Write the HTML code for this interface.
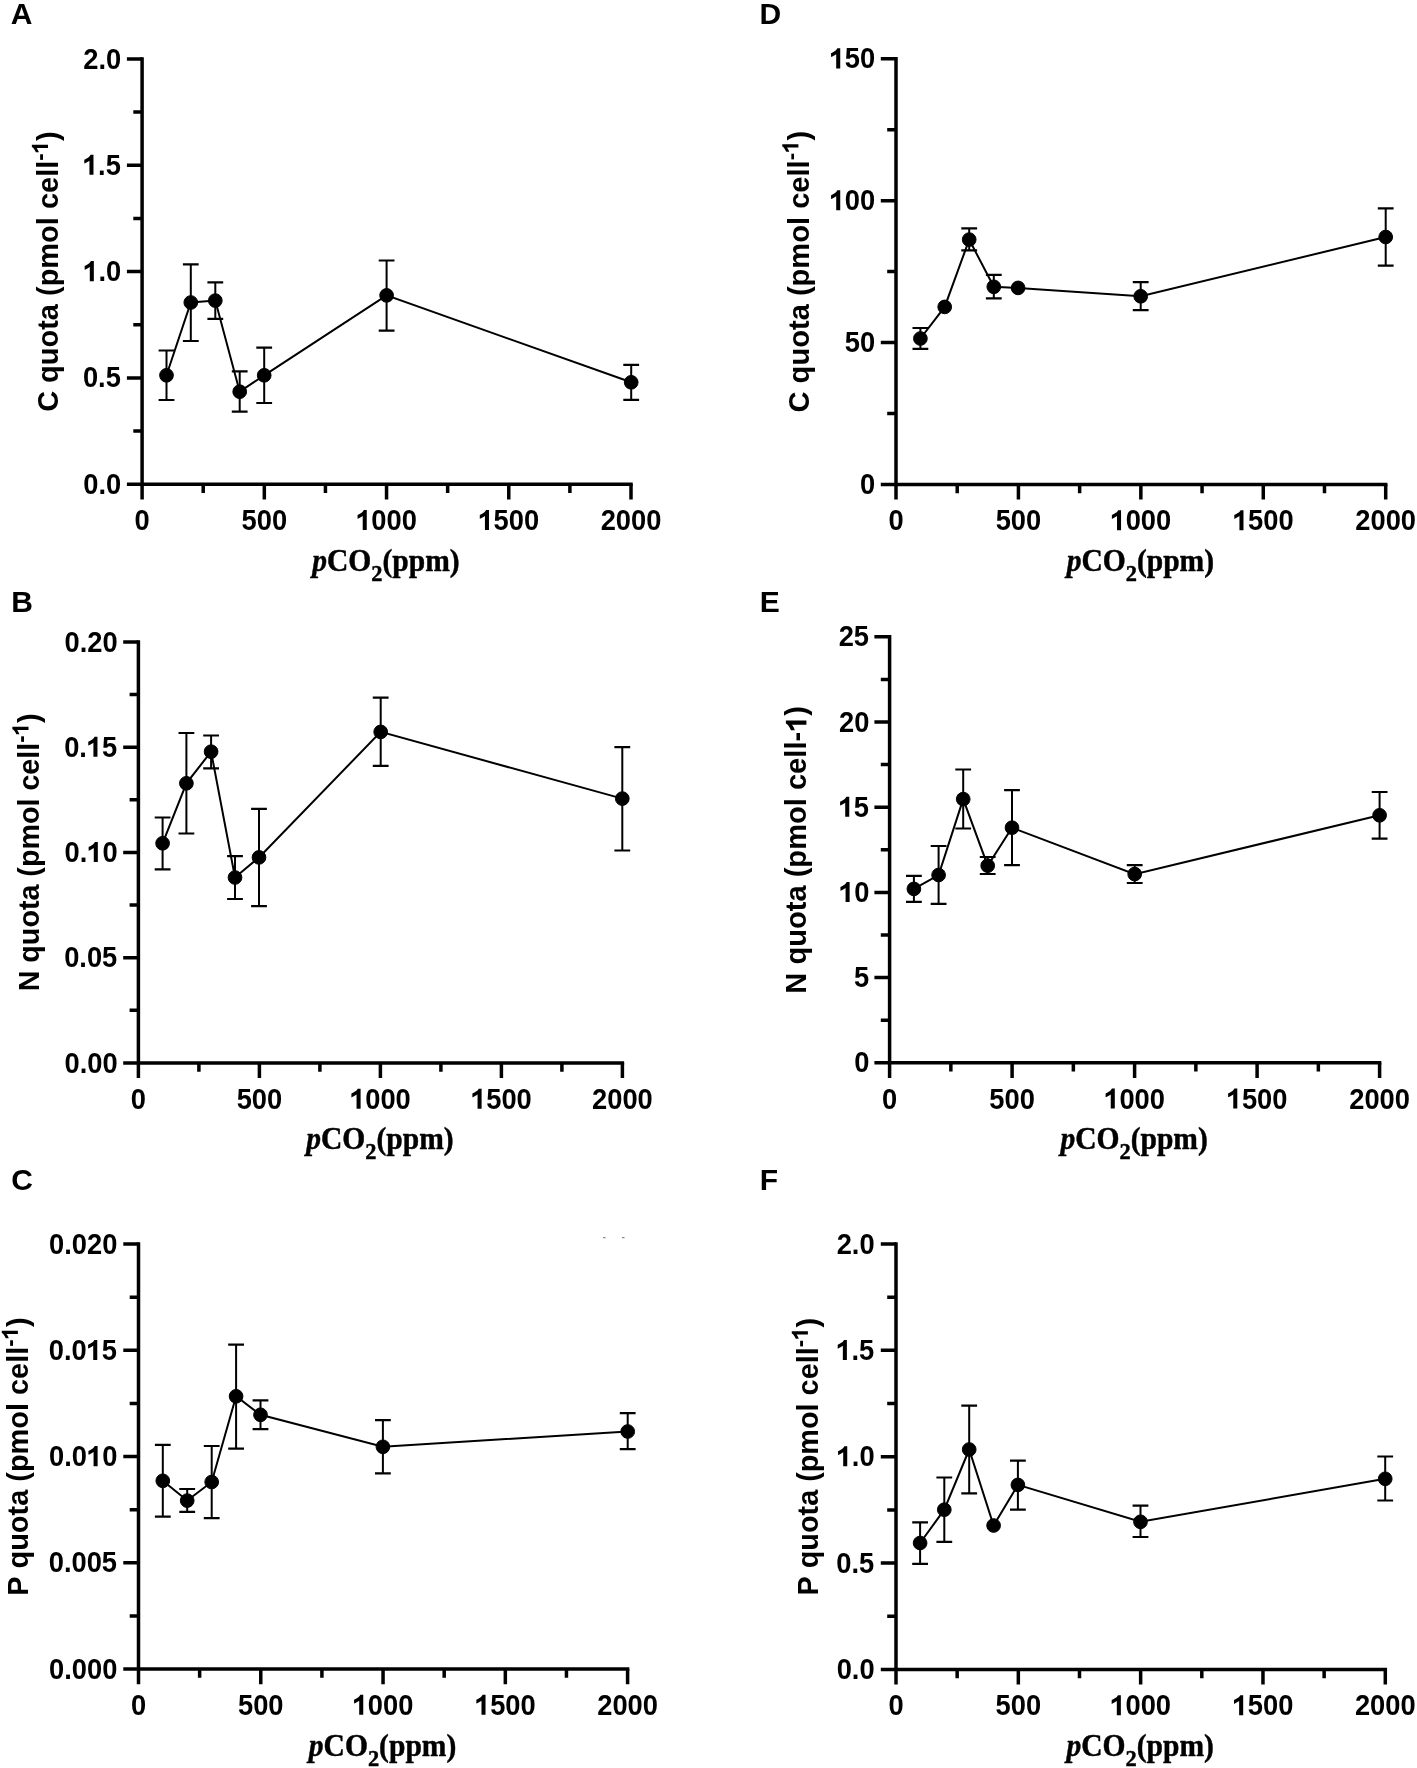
<!DOCTYPE html>
<html><head><meta charset="utf-8"><title>Figure</title><style>
html,body{margin:0;padding:0;background:#fff;}
svg{display:block;filter:grayscale(1);}
text{fill:#000;stroke:none;font-kerning:none;white-space:pre;}
path.g1{stroke:none;}
.tk{font-family:"Liberation Sans",sans-serif;font-weight:bold;font-size:30px;}
.yt{font-family:"Liberation Sans",sans-serif;font-weight:bold;font-size:30px;}
.sup{font-family:"Liberation Sans",sans-serif;font-weight:bold;font-size:23px;}
.xt{font-family:"Liberation Serif",serif;font-weight:bold;font-size:31px;stroke:#000;stroke-width:0.45px;stroke-linejoin:round;}
.xi{font-style:italic;}
.xs{font-size:23.5px;}
.lt{font-family:"Liberation Sans",sans-serif;font-weight:bold;font-size:30px;}
</style></head>
<body><svg width="1417" height="1768" viewBox="0 0 1417 1768">
<g stroke="#000" fill="#000" stroke-linecap="butt">
<g><path d="M142.1 57.15V499.4" stroke-width="3.5"/>
<path d="M126.9 484.2H632.75" stroke-width="3.5"/>
<path d="M133.3 431.04H142.1M126.9 377.88H142.1M133.3 324.71H142.1M126.9 271.55H142.1M133.3 218.39H142.1M126.9 165.22H142.1M133.3 112.06H142.1M126.9 58.9H142.1M203.21 484.2V493M264.32 484.2V499.4M325.44 484.2V493M386.55 484.2V499.4M447.66 484.2V493M508.77 484.2V499.4M569.89 484.2V493M631 484.2V499.4" stroke-width="3.5"/>
<text class="tk" transform="translate(83.27 493.8) scale(0.91 1)">0.0</text>
<text class="tk" transform="translate(82.91 387.48) scale(0.91 1)">0.5</text>
<text class="tk" transform="translate(83.27 281.15) scale(0.91 1)"> .0</text>
<path class="g1" d="M490 0H793V1466H575C540 1380 470 1318 400 1270C300 1200 200 1150 104 1105V828C240 870 380 950 490 1030Z" transform="translate(83.27 281.15) scale(0.013330 -0.013672)"/>
<text class="tk" transform="translate(82.91 174.82) scale(0.91 1)"> .5</text>
<path class="g1" d="M490 0H793V1466H575C540 1380 470 1318 400 1270C300 1200 200 1150 104 1105V828C240 870 380 950 490 1030Z" transform="translate(82.91 174.82) scale(0.013330 -0.013672)"/>
<text class="tk" transform="translate(83.27 68.5) scale(0.91 1)">2.0</text>
<text class="tk" transform="translate(134.51 530) scale(0.91 1)">0</text>
<text class="tk" transform="translate(241.55 530) scale(0.91 1)">500</text>
<text class="tk" transform="translate(356.18 530) scale(0.91 1)"> 000</text>
<path class="g1" d="M490 0H793V1466H575C540 1380 470 1318 400 1270C300 1200 200 1150 104 1105V828C240 870 380 950 490 1030Z" transform="translate(356.18 530) scale(0.013330 -0.013672)"/>
<text class="tk" transform="translate(478.41 530) scale(0.91 1)"> 500</text>
<path class="g1" d="M490 0H793V1466H575C540 1380 470 1318 400 1270C300 1200 200 1150 104 1105V828C240 870 380 950 490 1030Z" transform="translate(478.41 530) scale(0.013330 -0.013672)"/>
<text class="tk" transform="translate(600.63 530) scale(0.91 1)">2000</text>
<g transform="translate(58.2 271.55) rotate(-90) scale(0.996 1)"><text class="yt" transform="translate(-140.87 0) scale(0.97 1)">C quota (pmol cell</text><text class="sup" transform="translate(111.34 -10.2) scale(0.97 1)">-</text><path class="g1" d="M490 0H793V1466H575C540 1380 470 1318 400 1270C300 1200 200 1150 104 1105V828C240 870 380 950 490 1030Z" transform="translate(118.77 -10.2) scale(0.010894 -0.011006)"/><text class="yt" transform="translate(131.18 0) scale(0.97 1)">)</text></g>
<text class="xt xi" transform="translate(312.21 570.9) scale(0.953 1)">p</text><text class="xt" transform="translate(326.98 570.9) scale(0.953 1)">CO</text><text class="xt xs" transform="translate(371.29 581.2) scale(0.953 1)">2</text><text class="xt" transform="translate(382.49 570.9) scale(0.953 1)">(ppm)</text>
<text class="lt" x="10.65" y="24.1">A</text>
<polyline fill="none" stroke-width="2.0" points="166.5,375.3 190.8,302.5 215.3,300.6 239.7,391.7 264.2,375.3 386.6,295.4 631.2,382.3"/>
<path d="M166.5 350.5V400M190.8 264.3V341M215.3 282.4V318.9M239.7 371.4V411.7M264.2 347.7V403M386.6 260.5V330.7M631.2 364.8V399.9" stroke-width="2.0"/>
<path d="M158.6 350.5H174.4M158.6 400H174.4M182.9 264.3H198.7M182.9 341H198.7M207.4 282.4H223.2M207.4 318.9H223.2M231.8 371.4H247.6M231.8 411.7H247.6M256.3 347.7H272.1M256.3 403H272.1M378.7 260.5H394.5M378.7 330.7H394.5M623.3 364.8H639.1M623.3 399.9H639.1" stroke-width="2.2"/>
<circle cx="166.5" cy="375.3" r="6.85"/>
<circle cx="190.8" cy="302.5" r="6.85"/>
<circle cx="215.3" cy="300.6" r="6.85"/>
<circle cx="239.7" cy="391.7" r="6.85"/>
<circle cx="264.2" cy="375.3" r="6.85"/>
<circle cx="386.6" cy="295.4" r="6.85"/>
<circle cx="631.2" cy="382.3" r="6.85"/></g>
<g><path d="M138.4 640.25V1078.1" stroke-width="3.5"/>
<path d="M123.2 1062.9H624.15" stroke-width="3.5"/>
<path d="M129.6 1010.29H138.4M123.2 957.68H138.4M129.6 905.06H138.4M123.2 852.45H138.4M129.6 799.84H138.4M123.2 747.23H138.4M129.6 694.61H138.4M123.2 642H138.4M198.9 1062.9V1071.7M259.4 1062.9V1078.1M319.9 1062.9V1071.7M380.4 1062.9V1078.1M440.9 1062.9V1071.7M501.4 1062.9V1078.1M561.9 1062.9V1071.7M622.4 1062.9V1078.1" stroke-width="3.5"/>
<text class="tk" transform="translate(64.49 1072.5) scale(0.91 1)">0.00</text>
<text class="tk" transform="translate(64.13 967.28) scale(0.91 1)">0.05</text>
<text class="tk" transform="translate(64.49 862.05) scale(0.91 1)">0. 0</text>
<path class="g1" d="M490 0H793V1466H575C540 1380 470 1318 400 1270C300 1200 200 1150 104 1105V828C240 870 380 950 490 1030Z" transform="translate(87.25 862.05) scale(0.013330 -0.013672)"/>
<text class="tk" transform="translate(64.13 756.83) scale(0.91 1)">0. 5</text>
<path class="g1" d="M490 0H793V1466H575C540 1380 470 1318 400 1270C300 1200 200 1150 104 1105V828C240 870 380 950 490 1030Z" transform="translate(86.89 756.83) scale(0.013330 -0.013672)"/>
<text class="tk" transform="translate(64.49 651.6) scale(0.91 1)">0.20</text>
<text class="tk" transform="translate(130.81 1108.7) scale(0.91 1)">0</text>
<text class="tk" transform="translate(236.63 1108.7) scale(0.91 1)">500</text>
<text class="tk" transform="translate(350.03 1108.7) scale(0.91 1)"> 000</text>
<path class="g1" d="M490 0H793V1466H575C540 1380 470 1318 400 1270C300 1200 200 1150 104 1105V828C240 870 380 950 490 1030Z" transform="translate(350.03 1108.7) scale(0.013330 -0.013672)"/>
<text class="tk" transform="translate(471.03 1108.7) scale(0.91 1)"> 500</text>
<path class="g1" d="M490 0H793V1466H575C540 1380 470 1318 400 1270C300 1200 200 1150 104 1105V828C240 870 380 950 490 1030Z" transform="translate(471.03 1108.7) scale(0.013330 -0.013672)"/>
<text class="tk" transform="translate(592.03 1108.7) scale(0.91 1)">2000</text>
<g transform="translate(38.7 852.45) rotate(-90) scale(0.986 1)"><text class="yt" transform="translate(-140.87 0) scale(0.97 1)">N quota (pmol cell</text><text class="sup" transform="translate(111.34 -10.2) scale(0.97 1)">-</text><path class="g1" d="M490 0H793V1466H575C540 1380 470 1318 400 1270C300 1200 200 1150 104 1105V828C240 870 380 950 490 1030Z" transform="translate(118.77 -10.2) scale(0.010894 -0.011006)"/><text class="yt" transform="translate(131.18 0) scale(0.97 1)">)</text></g>
<text class="xt xi" transform="translate(306.19 1148.5) scale(0.953 1)">p</text><text class="xt" transform="translate(320.96 1148.5) scale(0.953 1)">CO</text><text class="xt xs" transform="translate(365.27 1158.8) scale(0.953 1)">2</text><text class="xt" transform="translate(376.47 1148.5) scale(0.953 1)">(ppm)</text>
<text class="lt" x="11.19" y="611.8">B</text>
<polyline fill="none" stroke-width="2.0" points="162.6,843.3 186.4,783.3 211.1,751.7 235,877.5 259,857.4 380.7,731.9 622.3,798.6"/>
<path d="M162.6 817.5V869.3M186.4 733V833.5M211.1 735.5V768.3M235 856.1V899M259 808.8V906.1M380.7 697.6V765.8M622.3 747.1V850.5" stroke-width="2.0"/>
<path d="M154.7 817.5H170.5M154.7 869.3H170.5M178.5 733H194.3M178.5 833.5H194.3M203.2 735.5H219M203.2 768.3H219M227.1 856.1H242.9M227.1 899H242.9M251.1 808.8H266.9M251.1 906.1H266.9M372.8 697.6H388.6M372.8 765.8H388.6M614.4 747.1H630.2M614.4 850.5H630.2" stroke-width="2.2"/>
<circle cx="162.6" cy="843.3" r="6.85"/>
<circle cx="186.4" cy="783.3" r="6.85"/>
<circle cx="211.1" cy="751.7" r="6.85"/>
<circle cx="235" cy="877.5" r="6.85"/>
<circle cx="259" cy="857.4" r="6.85"/>
<circle cx="380.7" cy="731.9" r="6.85"/>
<circle cx="622.3" cy="798.6" r="6.85"/></g>
<g><path d="M138.5 1242.35V1684.2" stroke-width="3.5"/>
<path d="M123.3 1669H629.35" stroke-width="3.5"/>
<path d="M129.7 1615.89H138.5M123.3 1562.78H138.5M129.7 1509.66H138.5M123.3 1456.55H138.5M129.7 1403.44H138.5M123.3 1350.32H138.5M129.7 1297.21H138.5M123.3 1244.1H138.5M199.64 1669V1677.8M260.77 1669V1684.2M321.91 1669V1677.8M383.05 1669V1684.2M444.19 1669V1677.8M505.33 1669V1684.2M566.46 1669V1677.8M627.6 1669V1684.2" stroke-width="3.5"/>
<text class="tk" transform="translate(49.1 1678.6) scale(0.91 1)">0.000</text>
<text class="tk" transform="translate(48.74 1572.38) scale(0.91 1)">0.005</text>
<text class="tk" transform="translate(49.1 1466.15) scale(0.91 1)">0.0 0</text>
<path class="g1" d="M490 0H793V1466H575C540 1380 470 1318 400 1270C300 1200 200 1150 104 1105V828C240 870 380 950 490 1030Z" transform="translate(87.05 1466.15) scale(0.013330 -0.013672)"/>
<text class="tk" transform="translate(48.74 1359.92) scale(0.91 1)">0.0 5</text>
<path class="g1" d="M490 0H793V1466H575C540 1380 470 1318 400 1270C300 1200 200 1150 104 1105V828C240 870 380 950 490 1030Z" transform="translate(86.69 1359.92) scale(0.013330 -0.013672)"/>
<text class="tk" transform="translate(49.1 1253.7) scale(0.91 1)">0.020</text>
<text class="tk" transform="translate(130.91 1714.8) scale(0.91 1)">0</text>
<text class="tk" transform="translate(238 1714.8) scale(0.91 1)">500</text>
<text class="tk" transform="translate(352.68 1714.8) scale(0.91 1)"> 000</text>
<path class="g1" d="M490 0H793V1466H575C540 1380 470 1318 400 1270C300 1200 200 1150 104 1105V828C240 870 380 950 490 1030Z" transform="translate(352.68 1714.8) scale(0.013330 -0.013672)"/>
<text class="tk" transform="translate(474.96 1714.8) scale(0.91 1)"> 500</text>
<path class="g1" d="M490 0H793V1466H575C540 1380 470 1318 400 1270C300 1200 200 1150 104 1105V828C240 870 380 950 490 1030Z" transform="translate(474.96 1714.8) scale(0.013330 -0.013672)"/>
<text class="tk" transform="translate(597.23 1714.8) scale(0.91 1)">2000</text>
<g transform="translate(28.1 1456.55) rotate(-90) scale(0.994 1)"><text class="yt" transform="translate(-140.07 0) scale(0.97 1)">P quota (pmol cell</text><text class="sup" transform="translate(110.54 -10.2) scale(0.97 1)">-</text><path class="g1" d="M490 0H793V1466H575C540 1380 470 1318 400 1270C300 1200 200 1150 104 1105V828C240 870 380 950 490 1030Z" transform="translate(117.97 -10.2) scale(0.010894 -0.011006)"/><text class="yt" transform="translate(130.38 0) scale(0.97 1)">)</text></g>
<text class="xt xi" transform="translate(308.84 1755.5) scale(0.953 1)">p</text><text class="xt" transform="translate(323.61 1755.5) scale(0.953 1)">CO</text><text class="xt xs" transform="translate(367.92 1765.8) scale(0.953 1)">2</text><text class="xt" transform="translate(379.12 1755.5) scale(0.953 1)">(ppm)</text>
<text class="lt" x="11.17" y="1190">C</text>
<polyline fill="none" stroke-width="2.0" points="162.8,1480.8 187.2,1500.6 211.7,1482 236.1,1396.3 260.5,1414.8 382.9,1446.8 627.7,1431.5"/>
<path d="M162.8 1444.9V1516.7M187.2 1489V1511.9M211.7 1446V1518.1M236.1 1344.6V1448.6M260.5 1400.3V1429.1M382.9 1420.2V1473.3M627.7 1413.2V1449.1" stroke-width="2.0"/>
<path d="M154.9 1444.9H170.7M154.9 1516.7H170.7M179.3 1489H195.1M179.3 1511.9H195.1M203.8 1446H219.6M203.8 1518.1H219.6M228.2 1344.6H244M228.2 1448.6H244M252.6 1400.3H268.4M252.6 1429.1H268.4M375 1420.2H390.8M375 1473.3H390.8M619.8 1413.2H635.6M619.8 1449.1H635.6" stroke-width="2.2"/>
<circle cx="162.8" cy="1480.8" r="6.85"/>
<circle cx="187.2" cy="1500.6" r="6.85"/>
<circle cx="211.7" cy="1482" r="6.85"/>
<circle cx="236.1" cy="1396.3" r="6.85"/>
<circle cx="260.5" cy="1414.8" r="6.85"/>
<circle cx="382.9" cy="1446.8" r="6.85"/>
<circle cx="627.7" cy="1431.5" r="6.85"/></g>
<g><path d="M896 57.05V499.6" stroke-width="3.5"/>
<path d="M880.8 484.4H1387.45" stroke-width="3.5"/>
<path d="M887.2 413.47H896M880.8 342.53H896M887.2 271.6H896M880.8 200.67H896M887.2 129.73H896M880.8 58.8H896M957.21 484.4V493.2M1018.42 484.4V499.6M1079.64 484.4V493.2M1140.85 484.4V499.6M1202.06 484.4V493.2M1263.28 484.4V499.6M1324.49 484.4V493.2M1385.7 484.4V499.6" stroke-width="3.5"/>
<text class="tk" transform="translate(860.04 494) scale(0.91 1)">0</text>
<text class="tk" transform="translate(844.85 352.13) scale(0.91 1)">50</text>
<text class="tk" transform="translate(829.67 210.27) scale(0.91 1)"> 00</text>
<path class="g1" d="M490 0H793V1466H575C540 1380 470 1318 400 1270C300 1200 200 1150 104 1105V828C240 870 380 950 490 1030Z" transform="translate(829.67 210.27) scale(0.013330 -0.013672)"/>
<text class="tk" transform="translate(829.67 68.4) scale(0.91 1)"> 50</text>
<path class="g1" d="M490 0H793V1466H575C540 1380 470 1318 400 1270C300 1200 200 1150 104 1105V828C240 870 380 950 490 1030Z" transform="translate(829.67 68.4) scale(0.013330 -0.013672)"/>
<text class="tk" transform="translate(888.41 530.2) scale(0.91 1)">0</text>
<text class="tk" transform="translate(995.65 530.2) scale(0.91 1)">500</text>
<text class="tk" transform="translate(1110.48 530.2) scale(0.91 1)"> 000</text>
<path class="g1" d="M490 0H793V1466H575C540 1380 470 1318 400 1270C300 1200 200 1150 104 1105V828C240 870 380 950 490 1030Z" transform="translate(1110.48 530.2) scale(0.013330 -0.013672)"/>
<text class="tk" transform="translate(1232.91 530.2) scale(0.91 1)"> 500</text>
<path class="g1" d="M490 0H793V1466H575C540 1380 470 1318 400 1270C300 1200 200 1150 104 1105V828C240 870 380 950 490 1030Z" transform="translate(1232.91 530.2) scale(0.013330 -0.013672)"/>
<text class="tk" transform="translate(1355.33 530.2) scale(0.91 1)">2000</text>
<g transform="translate(808.6 271.6) rotate(-90) scale(1.0 1)"><text class="yt" transform="translate(-140.87 0) scale(0.97 1)">C quota (pmol cell</text><text class="sup" transform="translate(111.34 -10.2) scale(0.97 1)">-</text><path class="g1" d="M490 0H793V1466H575C540 1380 470 1318 400 1270C300 1200 200 1150 104 1105V828C240 870 380 950 490 1030Z" transform="translate(118.77 -10.2) scale(0.010894 -0.011006)"/><text class="yt" transform="translate(131.18 0) scale(0.97 1)">)</text></g>
<text class="xt xi" transform="translate(1066.64 571) scale(0.953 1)">p</text><text class="xt" transform="translate(1081.41 571) scale(0.953 1)">CO</text><text class="xt xs" transform="translate(1125.72 581.3) scale(0.953 1)">2</text><text class="xt" transform="translate(1136.92 571) scale(0.953 1)">(ppm)</text>
<text class="lt" x="759.39" y="24.4">D</text>
<polyline fill="none" stroke-width="2.0" points="920.4,338.5 944.7,306.9 969.2,239.6 993.8,286.8 1018.1,287.9 1140.7,296.3 1385.7,237"/>
<path d="M920.4 328V348.9M969.2 228.3V250.4M993.8 274.9V298.4M1140.7 282.2V310.1M1385.7 208.3V265.6" stroke-width="2.0"/>
<path d="M912.5 328H928.3M912.5 348.9H928.3M961.3 228.3H977.1M961.3 250.4H977.1M985.9 274.9H1001.7M985.9 298.4H1001.7M1132.8 282.2H1148.6M1132.8 310.1H1148.6M1377.8 208.3H1393.6M1377.8 265.6H1393.6" stroke-width="2.2"/>
<circle cx="920.4" cy="338.5" r="6.85"/>
<circle cx="944.7" cy="306.9" r="6.85"/>
<circle cx="969.2" cy="239.6" r="6.85"/>
<circle cx="993.8" cy="286.8" r="6.85"/>
<circle cx="1018.1" cy="287.9" r="6.85"/>
<circle cx="1140.7" cy="296.3" r="6.85"/>
<circle cx="1385.7" cy="237" r="6.85"/></g>
<g><path d="M889.6 635.05V1078" stroke-width="3.5"/>
<path d="M874.4 1062.8H1381.35" stroke-width="3.5"/>
<path d="M880.8 1020.2H889.6M874.4 977.6H889.6M880.8 935H889.6M874.4 892.4H889.6M880.8 849.8H889.6M874.4 807.2H889.6M880.8 764.6H889.6M874.4 722H889.6M880.8 679.4H889.6M874.4 636.8H889.6M950.85 1062.8V1071.6M1012.1 1062.8V1078M1073.35 1062.8V1071.6M1134.6 1062.8V1078M1195.85 1062.8V1071.6M1257.1 1062.8V1078M1318.35 1062.8V1071.6M1379.6 1062.8V1078" stroke-width="3.5"/>
<text class="tk" transform="translate(854.24 1072.4) scale(0.91 1)">0</text>
<text class="tk" transform="translate(853.88 987.2) scale(0.91 1)">5</text>
<text class="tk" transform="translate(839.05 902) scale(0.91 1)"> 0</text>
<path class="g1" d="M490 0H793V1466H575C540 1380 470 1318 400 1270C300 1200 200 1150 104 1105V828C240 870 380 950 490 1030Z" transform="translate(839.05 902) scale(0.013330 -0.013672)"/>
<text class="tk" transform="translate(838.69 816.8) scale(0.91 1)"> 5</text>
<path class="g1" d="M490 0H793V1466H575C540 1380 470 1318 400 1270C300 1200 200 1150 104 1105V828C240 870 380 950 490 1030Z" transform="translate(838.69 816.8) scale(0.013330 -0.013672)"/>
<text class="tk" transform="translate(839.05 731.6) scale(0.91 1)">20</text>
<text class="tk" transform="translate(838.69 646.4) scale(0.91 1)">25</text>
<text class="tk" transform="translate(882.01 1108.6) scale(0.91 1)">0</text>
<text class="tk" transform="translate(989.33 1108.6) scale(0.91 1)">500</text>
<text class="tk" transform="translate(1104.23 1108.6) scale(0.91 1)"> 000</text>
<path class="g1" d="M490 0H793V1466H575C540 1380 470 1318 400 1270C300 1200 200 1150 104 1105V828C240 870 380 950 490 1030Z" transform="translate(1104.23 1108.6) scale(0.013330 -0.013672)"/>
<text class="tk" transform="translate(1226.73 1108.6) scale(0.91 1)"> 500</text>
<path class="g1" d="M490 0H793V1466H575C540 1380 470 1318 400 1270C300 1200 200 1150 104 1105V828C240 870 380 950 490 1030Z" transform="translate(1226.73 1108.6) scale(0.013330 -0.013672)"/>
<text class="tk" transform="translate(1349.23 1108.6) scale(0.91 1)">2000</text>
<g transform="translate(806.4 849.8) rotate(-90) scale(1.0 1)"><text class="yt" transform="translate(-143.89 0) scale(0.97 1)">N quota (pmol cell- )</text><path class="g1" d="M490 0H793V1466H575C540 1380 470 1318 400 1270C300 1200 200 1150 104 1105V828C240 870 380 950 490 1030Z" transform="translate(118.01 0) scale(0.014209 -0.013989)"/></g>
<text class="xt xi" transform="translate(1060.39 1148.5) scale(0.953 1)">p</text><text class="xt" transform="translate(1075.16 1148.5) scale(0.953 1)">CO</text><text class="xt xs" transform="translate(1119.47 1158.8) scale(0.953 1)">2</text><text class="xt" transform="translate(1130.67 1148.5) scale(0.953 1)">(ppm)</text>
<text class="lt" x="759.69" y="611.8">E</text>
<polyline fill="none" stroke-width="2.0" points="913.9,888.9 938.6,875 963.2,799.1 987.7,865.7 1012,827.7 1134.7,874.1 1379.6,815.3"/>
<path d="M913.9 875.9V901.9M938.6 846V903.8M963.2 769.5V828.5M987.7 857V874M1012 790.1V865.2M1134.7 865.1V883M1379.6 792V838.7" stroke-width="2.0"/>
<path d="M906 875.9H921.8M906 901.9H921.8M930.7 846H946.5M930.7 903.8H946.5M955.3 769.5H971.1M955.3 828.5H971.1M979.8 857H995.6M979.8 874H995.6M1004.1 790.1H1019.9M1004.1 865.2H1019.9M1126.8 865.1H1142.6M1126.8 883H1142.6M1371.7 792H1387.5M1371.7 838.7H1387.5" stroke-width="2.2"/>
<circle cx="913.9" cy="888.9" r="6.85"/>
<circle cx="938.6" cy="875" r="6.85"/>
<circle cx="963.2" cy="799.1" r="6.85"/>
<circle cx="987.7" cy="865.7" r="6.85"/>
<circle cx="1012" cy="827.7" r="6.85"/>
<circle cx="1134.7" cy="874.1" r="6.85"/>
<circle cx="1379.6" cy="815.3" r="6.85"/></g>
<g><path d="M896 1242.25V1684.6" stroke-width="3.5"/>
<path d="M880.8 1669.4H1387.05" stroke-width="3.5"/>
<path d="M887.2 1616.23H896M880.8 1563.05H896M887.2 1509.88H896M880.8 1456.7H896M887.2 1403.53H896M880.8 1350.35H896M887.2 1297.17H896M880.8 1244H896M957.16 1669.4V1678.2M1018.33 1669.4V1684.6M1079.49 1669.4V1678.2M1140.65 1669.4V1684.6M1201.81 1669.4V1678.2M1262.97 1669.4V1684.6M1324.14 1669.4V1678.2M1385.3 1669.4V1684.6" stroke-width="3.5"/>
<text class="tk" transform="translate(836.67 1679) scale(0.91 1)">0.0</text>
<text class="tk" transform="translate(836.31 1572.65) scale(0.91 1)">0.5</text>
<text class="tk" transform="translate(836.67 1466.3) scale(0.91 1)"> .0</text>
<path class="g1" d="M490 0H793V1466H575C540 1380 470 1318 400 1270C300 1200 200 1150 104 1105V828C240 870 380 950 490 1030Z" transform="translate(836.67 1466.3) scale(0.013330 -0.013672)"/>
<text class="tk" transform="translate(836.31 1359.95) scale(0.91 1)"> .5</text>
<path class="g1" d="M490 0H793V1466H575C540 1380 470 1318 400 1270C300 1200 200 1150 104 1105V828C240 870 380 950 490 1030Z" transform="translate(836.31 1359.95) scale(0.013330 -0.013672)"/>
<text class="tk" transform="translate(836.67 1253.6) scale(0.91 1)">2.0</text>
<text class="tk" transform="translate(888.41 1715.2) scale(0.91 1)">0</text>
<text class="tk" transform="translate(995.55 1715.2) scale(0.91 1)">500</text>
<text class="tk" transform="translate(1110.28 1715.2) scale(0.91 1)"> 000</text>
<path class="g1" d="M490 0H793V1466H575C540 1380 470 1318 400 1270C300 1200 200 1150 104 1105V828C240 870 380 950 490 1030Z" transform="translate(1110.28 1715.2) scale(0.013330 -0.013672)"/>
<text class="tk" transform="translate(1232.61 1715.2) scale(0.91 1)"> 500</text>
<path class="g1" d="M490 0H793V1466H575C540 1380 470 1318 400 1270C300 1200 200 1150 104 1105V828C240 870 380 950 490 1030Z" transform="translate(1232.61 1715.2) scale(0.013330 -0.013672)"/>
<text class="tk" transform="translate(1354.93 1715.2) scale(0.91 1)">2000</text>
<g transform="translate(818.1 1456.7) rotate(-90) scale(0.991 1)"><text class="yt" transform="translate(-140.07 0) scale(0.97 1)">P quota (pmol cell</text><text class="sup" transform="translate(110.54 -10.2) scale(0.97 1)">-</text><path class="g1" d="M490 0H793V1466H575C540 1380 470 1318 400 1270C300 1200 200 1150 104 1105V828C240 870 380 950 490 1030Z" transform="translate(117.97 -10.2) scale(0.010894 -0.011006)"/><text class="yt" transform="translate(130.38 0) scale(0.97 1)">)</text></g>
<text class="xt xi" transform="translate(1066.44 1755.5) scale(0.953 1)">p</text><text class="xt" transform="translate(1081.21 1755.5) scale(0.953 1)">CO</text><text class="xt xs" transform="translate(1125.52 1765.8) scale(0.953 1)">2</text><text class="xt" transform="translate(1136.72 1755.5) scale(0.953 1)">(ppm)</text>
<text class="lt" x="759.69" y="1190.3">F</text>
<polyline fill="none" stroke-width="2.0" points="920.1,1543 944.3,1509.7 969.2,1449.5 993.6,1525.5 1017.9,1484.9 1140.5,1521.8 1385.2,1478.8"/>
<path d="M920.1 1522.3V1563.9M944.3 1477.5V1541.9M969.2 1405.6V1493.3M1017.9 1460.6V1509.7M1140.5 1505.7V1537M1385.2 1456.5V1500.5" stroke-width="2.0"/>
<path d="M912.2 1522.3H928M912.2 1563.9H928M936.4 1477.5H952.2M936.4 1541.9H952.2M961.3 1405.6H977.1M961.3 1493.3H977.1M1010 1460.6H1025.8M1010 1509.7H1025.8M1132.6 1505.7H1148.4M1132.6 1537H1148.4M1377.3 1456.5H1393.1M1377.3 1500.5H1393.1" stroke-width="2.2"/>
<circle cx="920.1" cy="1543" r="6.85"/>
<circle cx="944.3" cy="1509.7" r="6.85"/>
<circle cx="969.2" cy="1449.5" r="6.85"/>
<circle cx="993.6" cy="1525.5" r="6.85"/>
<circle cx="1017.9" cy="1484.9" r="6.85"/>
<circle cx="1140.5" cy="1521.8" r="6.85"/>
<circle cx="1385.2" cy="1478.8" r="6.85"/></g>
</g>
<rect x="603" y="1237" width="2.5" height="1.2" fill="#888"/>
<rect x="622" y="1237" width="2.5" height="1.2" fill="#888"/>
</svg></body></html>
